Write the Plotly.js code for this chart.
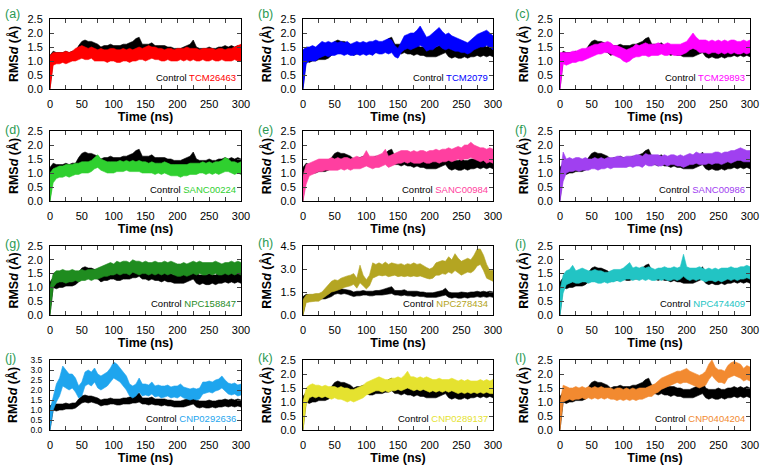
<!DOCTYPE html>
<html>
<head>
<meta charset="utf-8">
<script src="https://cdn.plot.ly/plotly-3.0.1.min.js"></script>
<style>html,body{margin:0;padding:0;background:#fff;}#chart{width:765px;height:467px;}</style>
</head>
<body>
<div id="chart"></div>
<script>
// Time grid (ns)
const timeNs = [0,5,10,15,20,25,30,35,40,45,50,55,60,65,70,75,80,85,90,95,100,105,110,115,120,125,130,135,140,145,150,155,160,165,170,175,180,185,190,195,200,205,210,215,220,225,230,235,240,245,250,255,260,265,270,275,280,285,290,295,300];

// Control (lower / upper envelope of the RMSd trace, Å)
const controlLo = [0,1.0,0.95,1.0,1.0,1.05,1.05,1.05,1.1,1.2, 1.35,1.4,1.35,1.4,1.35,1.3,1.2,1.25,1.25,1.3, 1.3,1.25,1.25,1.3,1.3,1.3,1.35,1.35,1.4,1.3, 1.3,1.25,1.3,1.25,1.25,1.2,1.25,1.2,1.2,1.15, 1.15,1.15,1.15,1.2,1.25,1.3,1.15,1.1,1.15,1.1, 1.1,1.15,1.1,1.15,1.15,1.2,1.15,1.2,1.15,1.2, 1.15];
const controlHi = [1.2,1.35,1.3,1.3,1.3,1.35,1.3,1.35,1.35,1.55, 1.7,1.75,1.7,1.7,1.65,1.6,1.5,1.55,1.55,1.6, 1.55,1.55,1.55,1.6,1.6,1.65,1.7,1.8,1.85,1.6, 1.6,1.6,1.65,1.55,1.55,1.55,1.55,1.5,1.5,1.45, 1.45,1.45,1.5,1.55,1.6,1.75,1.5,1.45,1.45,1.45, 1.5,1.45,1.45,1.5,1.5,1.55,1.5,1.55,1.5,1.55, 1.5];

const tcm26463Lo = [0,0.85,0.9,0.9,0.95,0.9,0.95,1.0,1.0,1.05, 1.1,1.05,1.05,1.1,1.0,1.0,1.0,1.0,0.95,1.0, 1.0,0.95,0.95,1.0,1.0,0.95,1.0,1.0,1.05,1.05, 1.0,1.05,1.1,1.05,1.05,1.0,1.0,1.05,1.0,1.0, 1.0,1.05,1.0,1.05,1.0,1.05,1.0,1.0,1.05,1.0, 1.0,1.05,1.0,1.0,1.05,1.0,1.0,1.0,1.05,1.0, 1.0];
const tcm26463Hi = [1.2,1.3,1.3,1.3,1.3,1.35,1.3,1.35,1.45,1.5, 1.55,1.5,1.45,1.5,1.45,1.4,1.45,1.4,1.4,1.45, 1.45,1.4,1.4,1.45,1.4,1.45,1.4,1.45,1.5,1.45, 1.5,1.55,1.5,1.5,1.45,1.45,1.4,1.45,1.45,1.4, 1.45,1.45,1.45,1.5,1.45,1.45,1.45,1.4,1.45,1.45, 1.45,1.45,1.4,1.45,1.45,1.4,1.45,1.45,1.5,1.55, 1.6];

const tcm2079Lo = [0,0.9,1.0,1.0,1.0,1.1,1.15,1.2,1.15,1.2, 1.2,1.25,1.25,1.2,1.25,1.2,1.2,1.25,1.2,1.25, 1.2,1.25,1.2,1.3,1.25,1.25,1.3,1.25,1.3,1.15, 1.1,1.3,1.4,1.45,1.4,1.45,1.5,1.55,1.5,1.35, 1.4,1.4,1.5,1.55,1.45,1.4,1.45,1.4,1.35,1.35, 1.3,1.3,1.25,1.3,1.4,1.45,1.5,1.5,1.55,1.5, 1.4];
const tcm2079Hi = [1.4,1.5,1.5,1.55,1.5,1.6,1.7,1.65,1.7,1.65, 1.7,1.65,1.7,1.65,1.7,1.6,1.65,1.7,1.65,1.7, 1.65,1.7,1.7,1.75,1.7,1.7,1.75,1.8,1.75,1.55, 1.45,1.7,1.9,1.95,2.0,2.0,2.1,2.25,2.05,1.85, 1.9,2.0,2.1,2.2,2.05,1.95,2.0,1.9,1.85,1.8, 1.75,1.7,1.65,1.75,1.85,1.95,2.0,2.05,2.1,2.0, 1.9];

const tcm29893Lo = [0,0.9,0.85,0.9,0.95,0.95,1.0,1.0,1.05,1.1, 1.15,1.2,1.25,1.25,1.3,1.3,1.25,1.2,1.15,1.1, 1.0,0.95,1.0,1.1,1.15,1.15,1.2,1.2,1.15,1.2, 1.2,1.2,1.25,1.2,1.2,1.25,1.2,1.2,1.2,1.25, 1.3,1.4,1.45,1.4,1.3,1.3,1.3,1.25,1.3,1.3, 1.25,1.3,1.25,1.3,1.25,1.3,1.25,1.25,1.3,1.25, 1.3];
const tcm29893Hi = [1.3,1.3,1.3,1.3,1.35,1.35,1.4,1.45,1.45,1.5, 1.55,1.6,1.6,1.65,1.65,1.7,1.65,1.55,1.55,1.5, 1.45,1.4,1.45,1.5,1.6,1.55,1.6,1.65,1.6,1.6, 1.6,1.65,1.6,1.6,1.65,1.6,1.6,1.6,1.6,1.65, 1.7,1.85,2.0,1.85,1.75,1.75,1.75,1.7,1.75,1.7, 1.75,1.7,1.75,1.7,1.75,1.75,1.7,1.7,1.75,1.7, 1.75];

const sanc00224Lo = [0,0.65,0.8,0.85,0.85,0.9,0.85,0.9,0.95,0.95, 1.0,1.0,1.0,1.05,1.15,1.2,1.1,1.05,1.0,1.0, 1.0,1.05,1.05,1.05,1.1,1.05,1.05,1.05,1.05,1.0, 1.0,1.0,1.0,0.95,1.0,0.95,1.0,0.95,0.9,0.9, 0.9,0.85,0.9,0.9,0.95,0.95,0.95,1.0,1.0,0.95, 1.0,0.95,1.0,0.95,1.0,1.05,1.05,1.0,0.95,1.0, 0.95];
const sanc00224Hi = [1.0,1.15,1.2,1.25,1.25,1.3,1.3,1.3,1.35,1.35, 1.4,1.4,1.4,1.45,1.55,1.65,1.5,1.45,1.4,1.4, 1.4,1.4,1.45,1.4,1.45,1.4,1.45,1.4,1.45,1.4, 1.4,1.35,1.4,1.35,1.35,1.35,1.4,1.35,1.3,1.3, 1.3,1.3,1.3,1.3,1.35,1.35,1.35,1.35,1.4,1.35, 1.4,1.35,1.4,1.4,1.45,1.55,1.5,1.4,1.4,1.35, 1.4];

const sanc00984Lo = [0,0.6,0.9,0.95,1.0,1.05,1.05,1.1,1.1,1.1, 1.1,1.1,1.15,1.1,1.15,1.1,1.15,1.15,1.15,1.2, 1.25,1.2,1.15,1.2,1.2,1.25,1.3,1.2,1.25,1.3, 1.35,1.35,1.4,1.35,1.4,1.35,1.35,1.35,1.4,1.35, 1.35,1.4,1.4,1.35,1.4,1.4,1.45,1.4,1.45,1.5, 1.45,1.5,1.5,1.55,1.5,1.45,1.4,1.45,1.35,1.4, 1.35];
const sanc00984Hi = [0.9,1.3,1.35,1.4,1.45,1.5,1.5,1.5,1.5,1.55, 1.5,1.55,1.5,1.55,1.55,1.5,1.55,1.6,1.55,1.6, 1.8,1.6,1.6,1.6,1.65,1.7,1.85,1.6,1.65,1.7, 1.75,1.8,1.8,1.8,1.75,1.8,1.75,1.8,1.8,1.75, 1.8,1.8,1.85,1.8,1.85,1.85,1.9,1.85,1.9,1.95, 1.9,2.0,2.0,2.1,2.0,1.95,1.9,1.9,1.85,1.9, 1.85];

const sanc00986Lo = [0,0.7,1.0,1.05,1.05,1.1,1.05,1.1,1.1,1.1, 1.15,1.15,1.1,1.15,1.15,1.2,1.15,1.2,1.2,1.2, 1.2,1.2,1.25,1.2,1.25,1.25,1.2,1.3,1.25,1.25, 1.3,1.25,1.25,1.3,1.25,1.3,1.3,1.25,1.25,1.2, 1.25,1.3,1.3,1.35,1.3,1.3,1.3,1.35,1.3,1.35, 1.35,1.3,1.35,1.4,1.35,1.4,1.45,1.45,1.4,1.4, 1.4];
const sanc00986Hi = [0.9,1.75,1.5,1.55,1.5,1.55,1.55,1.5,1.55,1.5, 1.5,1.55,1.5,1.55,1.5,1.55,1.55,1.55,1.6,1.6, 1.55,1.6,1.6,1.6,1.65,1.65,1.6,1.7,1.65,1.65, 1.65,1.65,1.6,1.65,1.6,1.65,1.65,1.6,1.65,1.6, 1.65,1.7,1.65,1.75,1.7,1.7,1.7,1.7,1.7,1.75, 1.75,1.7,1.75,1.75,1.8,1.8,1.85,1.9,1.85,1.8, 1.8];

const npc158847Lo = [0,1.0,1.15,1.2,1.2,1.15,1.2,1.2,1.25,1.2, 1.25,1.25,1.3,1.25,1.3,1.3,1.35,1.4,1.4,1.45, 1.45,1.5,1.45,1.5,1.5,1.45,1.55,1.5,1.45,1.5, 1.5,1.45,1.5,1.45,1.5,1.45,1.5,1.45,1.5,1.45, 1.4,1.4,1.45,1.4,1.45,1.5,1.45,1.5,1.45,1.45, 1.5,1.45,1.5,1.45,1.45,1.5,1.45,1.5,1.45,1.5, 1.45];
const npc158847Hi = [1.0,1.5,1.6,1.6,1.65,1.6,1.6,1.65,1.6,1.6, 1.65,1.6,1.65,1.65,1.65,1.7,1.75,1.8,1.85,1.9, 1.85,1.95,1.9,1.95,1.95,1.9,2.0,1.95,1.95,1.9, 1.95,1.9,1.9,1.95,1.9,1.9,1.95,1.9,1.95,1.9, 1.85,1.85,1.9,1.85,1.9,1.95,1.9,1.95,1.9,1.9, 1.9,1.9,1.95,1.9,1.85,1.9,1.9,1.95,1.9,1.95, 1.9];

const npc278434Lo = [0,0.8,0.85,0.85,0.9,0.9,1.0,1.15,1.35,1.5, 1.55,1.6,1.7,1.8,1.85,1.9,2.0,1.75,2.1,1.9, 1.7,1.9,2.4,2.5,2.6,2.55,2.6,2.5,2.55,2.6, 2.5,2.55,2.5,2.55,2.5,2.55,2.5,2.55,2.45,2.4, 2.35,2.4,2.6,2.6,2.7,2.65,2.8,2.7,2.9,2.75, 2.6,2.7,2.8,2.75,2.9,3.2,3.3,2.9,2.4,2.3, 2.2];
const npc278434Hi = [1.0,1.3,1.35,1.35,1.4,1.4,1.5,1.75,1.95,2.2, 2.3,2.25,2.4,2.5,2.55,2.6,2.7,2.4,3.25,2.6, 2.3,2.6,3.4,3.3,3.4,3.3,3.45,3.3,3.4,3.35, 3.3,3.35,3.25,3.35,3.3,3.4,3.3,3.35,3.2,3.1, 3.0,3.1,3.4,3.5,3.55,3.5,3.8,3.6,4.0,3.7, 3.5,3.6,3.7,3.6,3.9,4.3,4.3,3.9,3.3,2.9, 2.9];

const npc474409Lo = [0,0.8,1.1,1.15,1.2,1.15,1.15,1.2,1.2,1.15, 1.2,1.2,1.15,1.15,1.2,1.15,1.2,1.2,1.25,1.2, 1.25,1.3,1.3,1.25,1.3,1.25,1.3,1.25,1.3,1.25, 1.25,1.3,1.25,1.3,1.25,1.25,1.3,1.25,1.3,1.4, 1.3,1.25,1.3,1.25,1.3,1.25,1.2,1.25,1.25,1.2, 1.25,1.2,1.25,1.3,1.25,1.3,1.25,1.3,1.3,1.35, 1.3];
const npc474409Hi = [0.9,1.45,1.6,1.65,1.8,1.6,1.65,1.7,1.65,1.6, 1.6,1.65,1.6,1.6,1.55,1.55,1.6,1.65,1.65,1.65, 1.7,1.8,1.9,1.7,1.75,1.7,1.75,1.7,1.75,1.7, 1.65,1.7,1.7,1.75,1.7,1.7,1.75,1.7,1.75,2.2, 1.75,1.7,1.7,1.7,1.75,1.7,1.65,1.7,1.65,1.7, 1.65,1.7,1.7,1.7,1.75,1.7,1.7,1.75,1.75,1.8, 1.75];

const cnp0292636Lo = [0,1.0,1.4,1.7,2.2,2.1,2.0,2.1,1.9,1.6, 1.7,2.2,2.3,2.2,2.4,2.1,2.0,2.1,2.2,2.4, 2.6,2.5,2.4,2.2,2.0,1.7,1.6,1.7,1.9,1.7, 1.75,1.7,1.8,1.65,1.7,1.6,1.65,1.7,1.6,1.65, 1.6,1.7,1.6,1.55,1.5,1.55,1.5,1.55,1.8,1.85, 1.9,1.85,1.95,2.0,2.1,1.95,1.8,1.75,1.8,1.7, 1.75];
const cnp0292636Hi = [1.0,1.7,2.3,2.6,3.2,3.0,2.8,2.8,2.6,2.2, 2.4,2.9,3.0,2.9,3.1,2.8,2.7,2.8,2.9,3.1, 3.4,3.3,3.1,2.9,2.7,2.3,2.2,2.3,2.6,2.3, 2.3,2.25,2.4,2.2,2.25,2.2,2.2,2.25,2.15,2.2, 2.2,2.3,2.15,2.1,2.05,2.1,2.05,2.1,2.4,2.4, 2.45,2.4,2.5,2.55,2.7,2.5,2.35,2.3,2.35,2.25, 2.3];

const cnp0289137Lo = [0,0.9,1.15,1.2,1.15,1.2,1.15,1.2,1.15,1.1, 1.15,1.1,1.1,1.05,1.0,1.05,1.0,1.05,1.1,1.15, 1.25,1.3,1.35,1.4,1.4,1.35,1.4,1.35,1.4,1.4, 1.45,1.4,1.45,1.5,1.45,1.4,1.45,1.4,1.45,1.4, 1.35,1.4,1.35,1.4,1.35,1.4,1.35,1.4,1.35,1.3, 1.35,1.3,1.35,1.3,1.35,1.3,1.35,1.3,1.35,1.3, 1.3];
const cnp0289137Hi = [1.0,1.5,1.6,1.65,1.6,1.6,1.55,1.6,1.55,1.55, 1.55,1.5,1.55,1.5,1.5,1.45,1.45,1.5,1.55,1.6, 1.7,1.75,1.8,1.85,1.9,1.85,1.8,1.8,1.85,1.85, 1.9,1.85,1.95,2.1,1.9,1.9,1.85,1.9,1.85,1.9, 1.85,1.8,1.8,1.85,1.8,1.8,1.8,1.85,1.8,1.75, 1.8,1.75,1.8,1.75,1.75,1.75,1.8,1.75,1.8,1.75, 1.8];

const cnp0404204Lo = [0,1.0,1.05,1.1,1.05,1.1,1.1,1.15,1.1,1.15, 1.1,1.15,1.1,1.15,1.1,1.15,1.1,1.1,1.05,1.1, 1.05,1.1,1.05,1.1,1.05,1.1,1.1,1.15,1.2,1.2, 1.3,1.35,1.45,1.5,1.55,1.6,1.65,1.7,1.65,1.7, 1.7,1.65,1.6,1.55,1.5,1.55,1.6,1.8,1.95,1.8, 1.7,1.7,1.65,1.85,1.9,1.95,1.9,1.85,1.75,1.8, 1.75];
const cnp0404204Hi = [1.0,1.6,1.55,1.5,1.5,1.55,1.5,1.55,1.5,1.55, 1.5,1.55,1.5,1.55,1.5,1.5,1.5,1.45,1.5,1.5, 1.45,1.5,1.45,1.5,1.45,1.5,1.5,1.5,1.55,1.6, 1.65,1.75,1.85,1.9,1.95,2.0,2.05,2.1,2.1,2.15, 2.2,2.1,2.05,2.0,1.95,2.0,2.1,2.35,2.5,2.25, 2.15,2.15,2.1,2.3,2.4,2.45,2.4,2.35,2.2,2.3, 2.25];

const panelLabels = ['(a)','(b)','(c)','(d)','(e)','(f)','(g)','(h)','(i)','(j)','(k)','(l)'];
const compoundNames = ['TCM26463','TCM2079','TCM29893','SANC00224','SANC00984','SANC00986','NPC158847','NPC278434','NPC474409','CNP0292636','CNP0289137','CNP0404204'];
const compoundLo = [tcm26463Lo,tcm2079Lo,tcm29893Lo,sanc00224Lo,sanc00984Lo,sanc00986Lo,npc158847Lo,npc278434Lo,npc474409Lo,cnp0292636Lo,cnp0289137Lo,cnp0404204Lo];
const compoundHi = [tcm26463Hi,tcm2079Hi,tcm29893Hi,sanc00224Hi,sanc00984Hi,sanc00986Hi,npc158847Hi,npc278434Hi,npc474409Hi,cnp0292636Hi,cnp0289137Hi,cnp0404204Hi];
const yMaxes = [2.5,2.5,2.5,2.5,2.5,2.5,2.5,4.5,2.5,3.5,2.5,2.5];
const yDticks = [0.5,0.5,0.5,0.5,0.5,0.5,0.5,1.5,0.5,0.5,0.5,0.5];

// styles
const colors = ['#ff0000','#0000ff','#ff00ff','#2fd02f','#ff3fa0','#a040f0','#1f8c1f','#b4a522','#22c4c4','#1ea5ee','#e5e22f','#f28a30'];
const W = 765, H = 467;
const colPx = [[50,241],[303,493],[560,750]];
const rowPx = [[19,89],[131,201],[246,315],[360,430]];
const labelPx = [[3,13.8],[256,13.8],[513,13.8],[3,129.5],[256,129.5],[513,129.5],[3,243.5],[256,243],[513,243.5],[3,358],[256,358],[513,358]];
const FONT = 'Liberation Sans, Arial, sans-serif';

function band(lo, hi) {
  return {
    x: timeNs.concat(timeNs.slice().reverse()),
    y: hi.concat(lo.slice().reverse())
  };
}

const data = [];
const layout = {
  width: W, height: H,
  margin: {l:0, r:0, t:0, b:0},
  paper_bgcolor: '#fff', plot_bgcolor: '#fff',
  showlegend: false,
  font: {family: FONT, color: '#000', size: 11},
  annotations: []
};

for (let i = 0; i < 12; i++) {
  const n = i + 1;
  const sx = n === 1 ? '' : String(n);
  const col = i % 3, row = Math.floor(i / 3);
  const cb = band(controlLo, controlHi);
  data.push({x: cb.x, y: cb.y, xaxis: 'x'+sx, yaxis: 'y'+sx, mode: 'lines', fill: 'toself',
    fillcolor: '#000', line: {color: '#000', width: 0.6}, hoverinfo: 'skip'});
  const b = band(compoundLo[i], compoundHi[i]);
  data.push({x: b.x, y: b.y, xaxis: 'x'+sx, yaxis: 'y'+sx, mode: 'lines', fill: 'toself',
    fillcolor: colors[i], line: {color: colors[i], width: 0.6}, hoverinfo: 'skip'});

  const dense = yMaxes[i] / yDticks[i] > 6;
  layout['xaxis'+sx] = {
    domain: [colPx[col][0]/W, colPx[col][1]/W], anchor: 'y'+sx,
    range: [0, 300], tick0: 0, dtick: 50, ticks: 'inside', ticklen: 4, tickwidth: 1,
    minor: {dtick: 25, ticks: 'inside', ticklen: 4, tickwidth: 1, showgrid: false},
    showline: true, linecolor: '#000', linewidth: 1, mirror: 'allticks',
    showgrid: false, zeroline: false, ticklabelstandoff: 5,
    tickfont: {size: 11, family: FONT, color: '#000'},
    title: {text: '<b>Time (ns)</b>', font: {size: 12.5, family: FONT, color: '#000'}, standoff: 2}
  };
  layout['yaxis'+sx] = {
    domain: [1 - rowPx[row][1]/H, 1 - rowPx[row][0]/H], anchor: 'x'+sx,
    range: [0, yMaxes[i]], tick0: 0, dtick: yDticks[i], tickformat: '.1f',
    ticks: 'inside', ticklen: 4, tickwidth: 1,
    showline: true, linecolor: '#000', linewidth: 1, mirror: 'allticks',
    showgrid: false, zeroline: false, ticklabelstandoff: dense ? 5 : 4,
    tickfont: {size: dense ? 8.5 : 11, family: FONT, color: '#000'},
    title: {text: '<b>RMS<i>d</i> (Å)</b>', font: {size: 12.5, family: FONT, color: '#000'}, standoff: dense ? 10 : 6}
  };
  layout.annotations.push({
    xref: 'x'+sx+' domain', yref: 'y'+sx+' domain', x: 0.985, y: 11.5/70,
    xanchor: 'right', yanchor: 'middle', showarrow: false,
    text: 'Control <span style="color:'+colors[i]+'">'+compoundNames[i]+'</span>',
    font: {size: 9.5, family: FONT, color: '#000'}
  });
  layout.annotations.push({
    xref: 'paper', yref: 'paper', x: labelPx[i][0]/W, y: 1 - labelPx[i][1]/H,
    xanchor: 'left', yanchor: 'middle', showarrow: false,
    text: panelLabels[i], font: {size: 12.5, family: FONT, color: '#2a9a52'}
  });
}

Plotly.newPlot('chart', data, layout, {staticPlot: true, displayModeBar: false});
</script>
</body>
</html>
